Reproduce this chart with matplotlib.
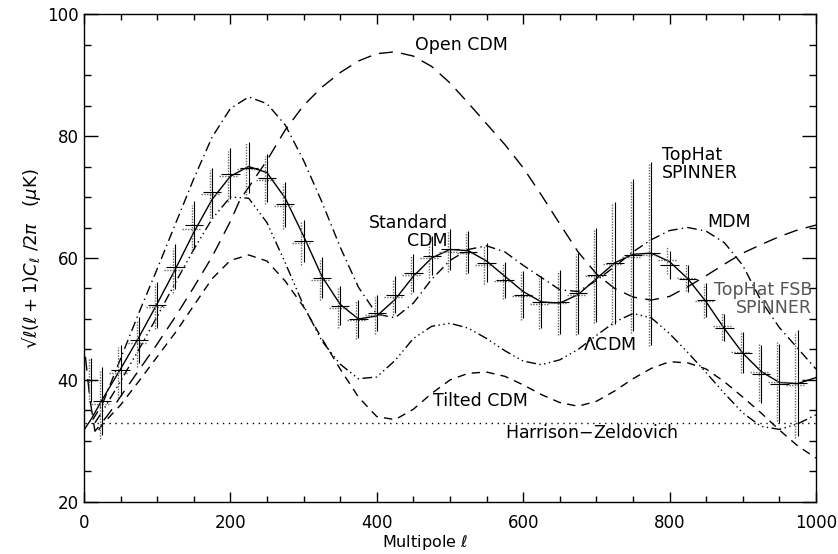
import matplotlib.pyplot as plt
from matplotlib.ticker import MultipleLocator

plt.rcParams['font.family'] = ['DejaVu Sans']
plt.rcParams['mathtext.fontset'] = 'dejavusans'

ell25 = list(range(25, 1001, 25))

# TopHat SPINNER (solid)
spin_l = [0, 10] + ell25
spin_v = [31.8, 33.6, 36.8, 41.8, 47.0, 52.5, 58.2, 64.2, 69.6, 73.4, 75.0, 74.0,
          69.8, 63.6, 57.0, 52.4, 50.0, 50.5, 53.2, 57.0, 60.0, 61.4, 61.2, 59.5,
          57.0, 54.5, 52.8, 52.6, 54.0, 56.6, 59.2, 60.6, 60.8, 59.4, 56.6, 52.8,
          48.4, 44.4, 41.4, 39.6, 39.4, 40.4]

# MDM (dash-dot, upper)
mdm_l = [12] + ell25
mdm_v = [33.5, 36.0, 43.5, 51.0, 58.2, 65.6, 73.0, 79.8, 84.5, 86.4, 85.3, 81.8,
         76.0, 69.2, 61.8, 55.2, 50.8, 50.2, 52.6, 56.5, 59.6, 61.4, 62.0, 61.0,
         58.8, 56.8, 54.8, 54.5, 56.3, 58.6, 61.0, 63.0, 64.5, 65.0, 64.4, 62.5,
         58.8, 53.0, 48.6, 45.2, 41.8]

# Lambda CDM
lcdm_l = [15] + ell25
lcdm_v = [33.0, 34.8, 39.8, 45.0, 50.4, 56.0, 61.4, 66.4, 70.0, 69.8, 65.8, 59.2,
          52.2, 46.4, 42.6, 40.2, 40.5, 43.2, 46.8, 48.8, 49.3, 48.5, 46.8, 44.8,
          43.1, 42.5, 43.3, 45.0, 47.3, 49.5, 50.9, 50.2, 47.6, 44.5, 41.2, 37.8,
          34.6, 32.4, 31.9, 32.8, 34.3]

# Tilted CDM (short dashes)
tilt_l = [20] + ell25
tilt_v = [31.8, 32.7, 35.9, 39.8, 43.8, 47.8, 52.2, 56.6, 59.6, 60.5, 59.5, 56.2,
          52.0, 46.8, 41.8, 37.2, 34.0, 33.5, 35.2, 37.8, 40.0, 41.1, 41.3, 40.6,
          39.2, 37.6, 36.3, 35.7, 36.5, 38.2, 40.2, 41.9, 43.0, 42.8, 41.8, 39.7,
          37.2, 34.6, 31.8, 29.2, 27.2]

# Open CDM (long dashes)
open_l = [2, 8, 15, 22, 36, 50, 75, 100, 125, 150, 175, 200, 213, 225, 250, 275,
          300, 325, 350, 375, 400, 425, 450, 475, 500, 525, 550, 575, 600, 625,
          650, 675, 700, 725, 750, 775, 800, 825, 850, 875, 900, 925, 950, 975, 1000]
open_v = [43.8, 37.0, 31.6, 32.6, 34.8, 37.3, 41.6, 45.9, 50.4, 55.2, 60.2, 66.0,
          69.5, 71.6, 76.0, 81.0, 85.0, 88.0, 90.4, 92.3, 93.5, 93.8, 93.1, 91.4,
          88.7, 85.4, 82.0, 78.6, 74.8, 70.3, 65.6, 61.0, 57.4, 55.0, 53.6, 53.1,
          53.7, 55.3, 57.1, 59.0, 60.8, 62.2, 63.5, 64.6, 65.4]

# Harrison-Zeldovich
hz_l = [2, 1000]
hz_v = [33.0, 33.0]

# simulated band powers
data_l = [10] + ell25[:-1]
data_v = [40.0, 36.6, 41.6, 46.6, 52.3, 58.6, 65.4, 70.8, 73.8, 74.8, 73.1, 68.8,
          62.8, 56.8, 52.2, 50.0, 51.0, 54.0, 57.6, 60.4, 61.4, 61.0, 59.2, 56.4,
          54.0, 52.8, 52.8, 54.2, 57.2, 59.2, 60.5, 60.8, 58.9, 56.6, 53.1, 48.6,
          44.5, 41.0, 39.4, 39.5]
data_v2 = [40.0, 36.0, 41.2, 46.0, 52.0, 58.0, 64.8, 70.5, 73.4, 74.6, 72.8, 68.5,
           62.4, 56.4, 51.8, 49.8, 50.6, 53.6, 57.2, 60.0, 61.0, 60.8, 58.9, 56.2,
           53.8, 52.5, 52.6, 54.0, 57.0, 59.0, 60.2, 60.5, 59.6, 56.8, 53.0, 48.8,
           44.6, 41.3, 39.7, 39.2]
data_err = [3.6, 5.6, 4.2, 3.8, 3.7, 3.7, 3.9, 4.0, 4.2, 4.2, 3.9, 3.7, 3.5, 3.3,
            3.2, 3.1, 3.0, 3.0, 3.1, 3.2, 3.3, 3.4, 3.2, 3.0, 3.9, 4.2, 5.3, 6.6,
            7.7, 10.0, 12.5, 15.0, 2.3, 2.2, 2.8, 2.2, 3.4, 4.8, 6.5, 8.7]
bin_half = [8] + [12.5] * 39

fig = plt.figure(figsize=(8.38, 5.54), dpi=100)
ax = fig.add_axes([0.1002, 0.0939, 0.8735, 0.8808])

lw = 1.0
ax.plot(spin_l, spin_v, color='k', lw=lw)
ax.plot(mdm_l, mdm_v, color='k', lw=lw, ls=(0, (7, 3, 1, 3)))
ax.plot(lcdm_l, lcdm_v, color='k', lw=lw, ls=(0, (7, 2.5, 1, 2.5, 1, 2.5, 1, 2.5)))
ax.plot(tilt_l, tilt_v, color='k', lw=lw, ls=(0, (6, 4.5)))
ax.plot(open_l, open_v, color='k', lw=lw, ls=(0, (10, 6)))
ax.plot(hz_l, hz_v, color='k', lw=1.0, ls=(0, (1, 3.3)))

eb = ax.errorbar([l - 3 for l in data_l], data_v2, yerr=data_err, xerr=bin_half,
                 fmt='none', ecolor='#666666', elinewidth=1.0, capsize=0)
for c in eb[2]:
    c.set_linestyle((0, (1, 1)))
ax.errorbar(data_l, data_v, yerr=data_err, xerr=bin_half, fmt='none',
            ecolor='k', elinewidth=0.8, capsize=0)

fs = 12.5
ax.text(452, 95, 'Open CDM', fontsize=fs, ha='left', va='center')
ax.text(497, 64.2, 'Standard\nCDM', fontsize=fs, ha='right', va='center',
        multialignment='right', linespacing=1.0)
ax.text(790, 75.4, 'TopHat\nSPINNER', fontsize=fs, ha='left', va='center',
        linespacing=1.0)
ax.text(851, 65.9, 'MDM', fontsize=fs, ha='left', va='center')
ax.text(995, 53.3, 'TopHat FSB\nSPINNER', fontsize=fs, ha='right', va='center',
        multialignment='right', linespacing=1.0, color='#555555')
ax.text(682, 45.7, r'$\Lambda$CDM', fontsize=fs, ha='left', va='center')
ax.text(477, 36.5, 'Tilted CDM', fontsize=fs, ha='left', va='center')
ax.text(575, 31.3, 'Harrison$-$Zeldovich', fontsize=fs, ha='left', va='center')

ax.set_xlim(0, 1000)
ax.set_ylim(20, 100)
ax.xaxis.set_major_locator(MultipleLocator(200))
ax.xaxis.set_minor_locator(MultipleLocator(50))
ax.yaxis.set_major_locator(MultipleLocator(20))
ax.yaxis.set_minor_locator(MultipleLocator(5))
ax.tick_params(axis='both', which='both', direction='in', top=True, right=True,
               labelsize=12, width=1.0)
ax.tick_params(axis='x', which='major', length=7, pad=8.5)
ax.tick_params(axis='x', which='minor', length=4.3)
ax.tick_params(axis='y', which='major', length=10, pad=4)
ax.tick_params(axis='y', which='minor', length=5)
for s in ax.spines.values():
    s.set_linewidth(1.0)

fig.text(425 / 838, 0.003, r'Multipole $\ell$', fontsize=11.5, ha='center', va='bottom')
fig.text(0.037, 0.534, '\u221a' + r'$\ell(\ell+1)C_\ell\ /2\pi$   ($\mu$K)',
         fontsize=13, rotation=90, ha='center', va='center')

fig.savefig('out.png', dpi=100)
